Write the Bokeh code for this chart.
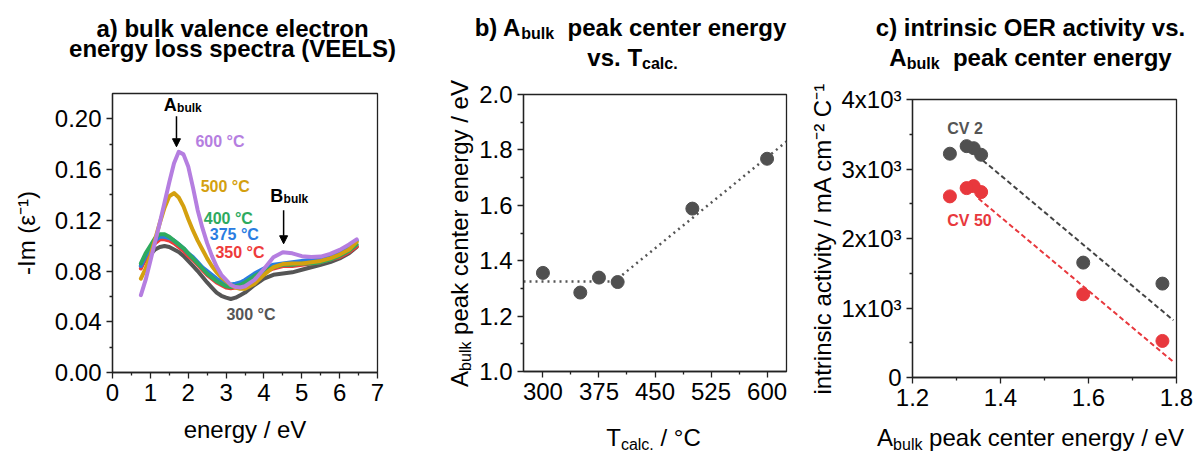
import math
from bokeh.plotting import figure
from bokeh.layouts import row, column
from bokeh.models import Label, Arrow, NormalHead, FixedTicker, NumeralTickFormatter
from bokeh.embed import file_html
from bokeh.resources import INLINE

FONT = "Liberation Sans"

# ---------------- data: panel a (VEELS spectra) ----------------
energy = [0.75, 0.875, 1.0, 1.125, 1.25, 1.375, 1.5, 1.625, 1.75, 1.875, 2.0, 2.125,
          2.25, 2.375, 2.5, 2.625, 2.75, 2.875, 3.0, 3.125, 3.25, 3.375, 3.5,
          3.75, 4.0, 4.25, 4.5, 4.75, 5.0, 5.25, 5.5, 5.75, 6.0, 6.25, 6.45]
spec_300 = [0.084, 0.089, 0.093, 0.097, 0.099, 0.0998, 0.099, 0.097, 0.095, 0.092, 0.088, 0.084,
            0.080, 0.0755, 0.071, 0.067, 0.063, 0.0605, 0.059, 0.058, 0.059, 0.061, 0.063,
            0.069, 0.074, 0.077, 0.078, 0.079, 0.081, 0.083, 0.085, 0.087, 0.090, 0.094, 0.099]
spec_350 = [0.082, 0.090, 0.096, 0.102, 0.105, 0.105, 0.104, 0.102, 0.099, 0.096, 0.092, 0.089,
            0.085, 0.081, 0.077, 0.074, 0.071, 0.069, 0.067, 0.0665, 0.067, 0.068, 0.070,
            0.075, 0.079, 0.082, 0.084, 0.084, 0.085, 0.086, 0.087, 0.089, 0.091, 0.095, 0.0995]
spec_375 = [0.084, 0.092, 0.098, 0.104, 0.107, 0.107, 0.106, 0.104, 0.101, 0.098, 0.094, 0.091,
            0.087, 0.083, 0.080, 0.077, 0.074, 0.072, 0.070, 0.0695, 0.070, 0.071, 0.073,
            0.078, 0.082, 0.085, 0.086, 0.087, 0.088, 0.089, 0.090, 0.092, 0.095, 0.099, 0.104]
spec_400 = [0.086, 0.094, 0.100, 0.106, 0.109, 0.109, 0.107, 0.104, 0.101, 0.098, 0.094, 0.090,
            0.086, 0.082, 0.078, 0.075, 0.072, 0.070, 0.068, 0.0675, 0.068, 0.069, 0.071,
            0.076, 0.080, 0.083, 0.085, 0.085, 0.086, 0.086, 0.087, 0.089, 0.092, 0.096, 0.101]
spec_500 = [0.074, 0.082, 0.092, 0.105, 0.118, 0.130, 0.139, 0.1415, 0.138, 0.131, 0.121, 0.112,
            0.104, 0.097, 0.090, 0.084, 0.079, 0.075, 0.072, 0.069, 0.067, 0.066, 0.066,
            0.070, 0.077, 0.083, 0.0855, 0.086, 0.086, 0.087, 0.088, 0.090, 0.093, 0.097, 0.103]
spec_600 = [0.061, 0.073, 0.088, 0.103, 0.118, 0.134, 0.150, 0.165, 0.174, 0.172, 0.1625, 0.146,
            0.128, 0.114, 0.102, 0.092, 0.0835, 0.077, 0.073, 0.069, 0.0674, 0.067, 0.068,
            0.073, 0.0816, 0.0908, 0.0948, 0.094, 0.0917, 0.091, 0.0914, 0.0935, 0.0967, 0.101, 0.105]
spectra = [spec_300, spec_350, spec_375, spec_400, spec_500, spec_600]
spec_names = ["300 °C", "350 °C", "375 °C", "400 °C", "500 °C", "600 °C"]
spec_colors = ["#555555", "#ee3b3b", "#2a7de1", "#2eaa5f", "#d4a00f", "#b57ee0"]
spec_label_x = [3.01, 2.72, 2.57, 2.41, 2.33, 2.19]
spec_label_y = [0.0458, 0.0948, 0.1085, 0.1217, 0.1465, 0.182]

# ---------------- data: panel b ----------------
t_calc = [300, 350, 375, 400, 500, 600]
peak_energy = [1.356, 1.285, 1.339, 1.323, 1.588, 1.768]
fit_flat_x = [274, 400]
fit_flat_y = [1.325, 1.325]
fit_rise_x = [400, 626]
fit_rise_y = [1.335, 1.830]

# ---------------- data: panel c ----------------
activity_cv2 = [3205, 3220, 3300, 3329, 1653, 1351]
activity_cv50 = [2668, 2606, 2754, 2725, 1197, 526]
fit_cv2_x = [1.36, 1.793]
fit_cv2_y = [3123, 823]
fit_cv50_x = [1.35, 1.793]
fit_cv50_y = [2575, 224]

GRAY = "#505050"
RED = "#e8383d"

# ---------------- text width helper (Arial / Liberation metrics) ----------------
REG = {' ': 278, '.': 278, '/': 278, '°': 400, 'A': 667, 'C': 722, 'T': 611, 'V': 667,
       'a': 556, 'b': 556, 'c': 500, 'e': 556, 'g': 556, 'k': 500, 'l': 222, 'n': 556,
       'p': 556, 'r': 333, 't': 278, 'u': 556, 'y': 500, 's': 500, 'v': 500}
BLD = {' ': 278, '.': 278, ')': 333, '(': 333, 'A': 722, 'B': 722, 'T': 611, 'a': 556,
       'b': 611, 'c': 556, 'e': 556, 'g': 611, 'k': 556, 'l': 278, 'n': 611, 'p': 611,
       'r': 389, 's': 556, 't': 333, 'u': 611, 'v': 556, 'y': 556, 'i': 278}


def tw(s, size, bold):
    tab = BLD if bold else REG
    return sum(tab.get(ch, 556) for ch in s) * size / 1000.0


def mkfig(W, H, L, T, FW, FH, xr, yr):
    p = figure(width=W, height=H, x_range=xr, y_range=yr,
               output_backend="svg", toolbar_location=None,
               min_border_left=L, min_border_right=W - L - FW,
               min_border_top=T, min_border_bottom=H - T - FH)
    p.grid.visible = False
    p.outline_line_color = "#222222"
    p.outline_line_width = 1.3
    p.background_fill_color = "white"
    p.border_fill_color = "white"
    for ax in (p.xaxis[0], p.yaxis[0]):
        ax.major_tick_out = 6
        ax.major_tick_in = 0
        ax.minor_tick_out = 3
        ax.minor_tick_in = 0
        ax.axis_line_color = "#222222"
        ax.axis_line_width = 1.3
        ax.major_tick_line_color = "#222222"
        ax.minor_tick_line_color = "#222222"
        ax.major_tick_line_width = 1.3
        ax.minor_tick_line_width = 1.3
        ax.major_label_text_font = FONT
        ax.major_label_text_font_size = "24px"
        ax.major_label_text_color = "black"
        ax.major_label_standoff = 5
        ax.axis_label_text_font = FONT
        ax.axis_label_text_font_size = "24px"
        ax.axis_label_text_font_style = "normal"
        ax.axis_label_text_color = "black"
    return p


def strip(W, H):
    """A blank figure whose frame is its whole canvas, used to hold text."""
    p = figure(width=W, height=H, x_range=(0, W), y_range=(0, H),
               x_axis_type=None, y_axis_type=None,
               output_backend="svg", toolbar_location=None,
               min_border_left=0, min_border_right=0, min_border_top=0, min_border_bottom=0)
    p.outline_line_color = None
    p.background_fill_color = "white"
    p.border_fill_color = "white"
    return p


def put(p, g, cx, cy, text, size, bold=False, color="black", align="left", angle=0.0):
    """(cx, cy): page position of the text baseline start (or centre if align='center')."""
    if angle == 0.0:
        cy = cy - 0.35 * size
    else:
        cx = cx - 0.35 * size
    p.add_layout(Label(x=cx - g["X0"], y=g["Y0"] + g["FH"] - cy,
                       x_units="screen", y_units="screen", text=text,
                       text_font=FONT, text_font_size=f"{size}px",
                       text_font_style="bold" if bold else "normal",
                       text_color=color, text_align=align,
                       text_baseline="middle", angle=angle))


def rich_h(p, g, center_x, base_y, segs, size, sub_size, bold, drop):
    widths = [tw(t, sub_size if sub else size, bold) for t, sub in segs]
    x = center_x - sum(widths) / 2.0
    for (t, sub), w in zip(segs, widths):
        sz = sub_size if sub else size
        lead = len(t) - len(t.lstrip(' '))
        put(p, g, x + tw(' ' * lead, sz, bold), base_y + (drop if sub else 0), t.strip(' '), sz, bold)
        x += w


def rich_v(p, g, base_x, center_y, segs, size, sub_size, bold, drop):
    widths = [tw(t, sub_size if sub else size, bold) for t, sub in segs]
    y = center_y + sum(widths) / 2.0
    for (t, sub), w in zip(segs, widths):
        sz = sub_size if sub else size
        lead = len(t) - len(t.lstrip(' '))
        put(p, g, base_x + (drop if sub else 0), y - tw(' ' * lead, sz, bold), t.strip(' '), sz, bold,
            angle=math.pi / 2)
        y -= w


TOP = 75      # height of the title strips
XLAB = 417    # top of the x-label strips (panels b, c)

# ---------------- panel a ----------------
ta = strip(400, TOP)
g_ta = dict(X0=0, Y0=0, FH=TOP)
put(ta, g_ta, 232, 36, "a) bulk valence electron", 24, True, align="center")
put(ta, g_ta, 232, 56, "energy loss spectra (VEELS)", 24, True, align="center")

pa = mkfig(400, 452 - TOP, 112, 93 - TOP, 265, 279, (0, 7), (0, 0.22))
pa.xaxis[0].ticker = FixedTicker(ticks=[0, 1, 2, 3, 4, 5, 6, 7],
                                 minor_ticks=[0.5, 1.5, 2.5, 3.5, 4.5, 5.5, 6.5])
pa.yaxis[0].ticker = FixedTicker(ticks=[0, 0.04, 0.08, 0.12, 0.16, 0.20],
                                 minor_ticks=[0.02, 0.06, 0.10, 0.14, 0.18])
pa.yaxis[0].formatter = NumeralTickFormatter(format="0.00")
pa.xaxis[0].axis_label = "energy / eV"
pa.xaxis[0].axis_label_standoff = 12
pa.yaxis[0].axis_label = "-Im (ε⁻¹)"
pa.yaxis[0].axis_label_standoff = 12

for ys, col in zip(spectra, spec_colors):
    pa.line(energy, ys, line_color=col, line_width=4, line_join="round", line_cap="round")
for name, col, lx, ly in zip(spec_names, spec_colors, spec_label_x, spec_label_y):
    pa.add_layout(Label(x=lx, y=ly, text=name, text_font=FONT, text_font_size="16px",
                        text_font_style="bold", text_color=col, text_baseline="middle"))

pa.add_layout(Label(x=1.355, y=0.2108, text="A", text_font=FONT, text_font_size="18px",
                    text_font_style="bold", text_color="black", text_baseline="middle"))
pa.add_layout(Label(x=1.705, y=0.2088, text="bulk", text_font=FONT, text_font_size="12px",
                    text_font_style="bold", text_color="black", text_baseline="middle"))
pa.add_layout(Label(x=4.17, y=0.1394, text="B", text_font=FONT, text_font_size="18px",
                    text_font_style="bold", text_color="black", text_baseline="middle"))
pa.add_layout(Label(x=4.52, y=0.1372, text="bulk", text_font=FONT, text_font_size="12px",
                    text_font_style="bold", text_color="black", text_baseline="middle"))
pa.add_layout(Arrow(x_start=1.69, y_start=0.202, x_end=1.69, y_end=0.178, line_width=1.5,
                    line_color="black",
                    end=NormalHead(size=8, fill_color="black", line_color="black")))
pa.add_layout(Arrow(x_start=4.52, y_start=0.128, x_end=4.52, y_end=0.1015, line_width=1.5,
                    line_color="black",
                    end=NormalHead(size=8, fill_color="black", line_color="black")))

col_a = column(row(ta), row(pa), spacing=0)

# ---------------- panel b ----------------
tb = strip(400, TOP)
g_tb = dict(X0=400, Y0=0, FH=TOP)
rich_h(tb, g_tb, 630, 35, [("b) A", False), ("bulk", True), ("  peak center energy", False)],
       24, 16, True, 4)
rich_h(tb, g_tb, 632, 65, [("vs. T", False), ("calc.", True)], 24, 16, True, 4)

YB_W = 76
yb = strip(YB_W, XLAB - TOP)
g_yb = dict(X0=400, Y0=TOP, FH=XLAB - TOP)
rich_v(yb, g_yb, 467, 233, [("A", False), ("bulk", True), (" peak center energy / eV", False)],
       24, 16, False, 4)

pb = mkfig(400 - YB_W, XLAB - TOP, 520 - 400 - YB_W, 94 - TOP, 266, 277, (274, 626), (1.0, 2.0))
pb.xaxis[0].ticker = FixedTicker(ticks=[300, 375, 450, 525, 600],
                                 minor_ticks=[337.5, 412.5, 487.5, 562.5])
pb.yaxis[0].ticker = FixedTicker(ticks=[1.0, 1.2, 1.4, 1.6, 1.8, 2.0],
                                 minor_ticks=[1.1, 1.3, 1.5, 1.7, 1.9])
pb.yaxis[0].formatter = NumeralTickFormatter(format="0.0")
pb.line(fit_flat_x, fit_flat_y, line_color="#555555", line_width=2.5, line_dash="2 4")
pb.line(fit_rise_x, fit_rise_y, line_color="#555555", line_width=2.5, line_dash="2 4")
pb.scatter(t_calc, peak_energy, size=13, fill_color=GRAY, line_color=GRAY)

xb = strip(400, 452 - XLAB)
g_xb = dict(X0=400, Y0=XLAB, FH=452 - XLAB)
rich_h(xb, g_xb, 653, 445, [("T", False), ("calc.", True), (" / °C", False)], 24, 16, False, 5)

col_b = column(row(tb), row(column(yb), column(pb), spacing=0), row(xb), spacing=0)

# ---------------- panel c ----------------
tc = strip(395, TOP)
g_tc = dict(X0=800, Y0=0, FH=TOP)
put(tc, g_tc, 1030, 35, "c) intrinsic OER activity vs.", 24, True, align="center")
rich_h(tc, g_tc, 1030, 65, [("A", False), ("bulk", True), ("  peak center energy", False)],
       24, 16, True, 4)

pc = mkfig(395, XLAB - TOP, 112, 99 - TOP, 264, 278, (1.2, 1.8), (0, 4000))
pc.xaxis[0].ticker = FixedTicker(ticks=[1.2, 1.4, 1.6, 1.8], minor_ticks=[1.3, 1.5, 1.7])
pc.xaxis[0].formatter = NumeralTickFormatter(format="0.0")
pc.yaxis[0].ticker = FixedTicker(ticks=[0, 1000, 2000, 3000, 4000],
                                 minor_ticks=[500, 1500, 2500, 3500])
pc.yaxis[0].major_label_overrides = {0: "0", 1000: "1x10³", 2000: "2x10³",
                                     3000: "3x10³", 4000: "4x10³"}
pc.yaxis[0].axis_label = "intrinsic activity / mA cm⁻² C⁻¹"
pc.yaxis[0].axis_label_standoff = 2

pc.line(fit_cv2_x, fit_cv2_y, line_color="#444444", line_width=2, line_dash="5 3")
pc.line(fit_cv50_x, fit_cv50_y, line_color=RED, line_width=2, line_dash="5 3")
pc.scatter(peak_energy, activity_cv2, size=13, fill_color=GRAY, line_color=GRAY)
pc.scatter(peak_energy, activity_cv50, size=13, fill_color=RED, line_color=RED)
pc.add_layout(Label(x=1.279, y=3579, text="CV 2", text_font=FONT, text_font_size="16px",
                    text_font_style="bold", text_color="#555555", text_baseline="middle"))
pc.add_layout(Label(x=1.279, y=2261, text="CV 50", text_font=FONT, text_font_size="16px",
                    text_font_style="bold", text_color=RED, text_baseline="middle"))

xc = strip(395, 452 - XLAB)
g_xc = dict(X0=800, Y0=XLAB, FH=452 - XLAB)
rich_h(xc, g_xc, 1030, 445, [("A", False), ("bulk", True), (" peak center energy / eV", False)],
       24, 16, False, 5)

col_c = column(row(tc), row(pc), row(xc), spacing=0)

layout = row(col_a, col_b, col_c, spacing=0)
open("out.html", "w").write(file_html(layout, INLINE))
